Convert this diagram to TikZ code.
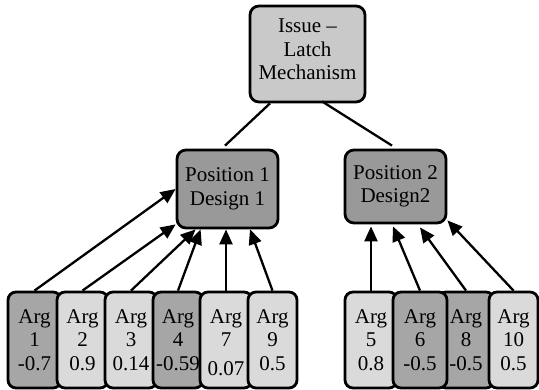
\documentclass[tikz,border=0pt]{standalone}
\usepackage{fontspec}
\setmainfont{Liberation Serif}
\usetikzlibrary{arrows.meta,calc}
\definecolor{issuefill}{HTML}{C9C9C9}
\definecolor{posfill}{HTML}{999999}
\definecolor{argdark}{HTML}{A6A6A6}
\definecolor{arglight}{HTML}{DADADA}
\begin{document}
\begin{tikzpicture}[x=1pt,y=-1pt,
 box/.style={draw=black, line width=2.8pt, rounded corners=9pt, inner sep=0pt, align=center, font=\fontsize{21}{23.5}\selectfont},
 issuebox/.style={box, fill=issuefill, minimum width=115pt, minimum height=96pt},
 posbox/.style={box, fill=posfill, minimum width=101pt},
 argbox/.style={box, rounded corners=8pt, minimum height=96pt},
 dark/.style={argbox, fill=argdark},
 light/.style={argbox, fill=arglight},
 link/.style={line width=2.3pt},
 arr/.style={line width=2.3pt, -{Triangle[length=15pt,width=13pt]}}
]
\useasboundingbox (0,0) rectangle (539,390);
\node[issuebox] (issue) at (307.5,54) {Issue --\\Latch\\Mechanism\\[-14pt]\mbox{}};
\node[posbox, minimum height=78pt] (p1) at (227.5,189) {Position 1\\Design 1};
\node[posbox, minimum height=73pt] (p2) at (395.5,186.5) {Position 2\\Design2};
\node[dark, minimum width=53pt] (a1) at (34.5,340) {Arg\\1\\-0.7};
\node[light, minimum width=51pt] (a2) at (82.5,340) {Arg\\2\\0.9};
\node[light, minimum width=52pt] (a3) at (131,340) {Arg\\3\\0.14};
\node[dark, minimum width=50pt] (a4) at (178,340) {Arg\\4\\-0.59};
\node[light, minimum width=52pt] (a7) at (226,340) {Arg\\7\\\raisebox{-5pt}[\height][\depth]{0.07}};
\node[light, minimum width=49pt] (a9) at (272.5,340) {Arg\\9\\0.5};
\node[light, minimum width=52pt] (a5) at (371,340) {Arg\\5\\0.8};
\node[dark, minimum width=56pt] (a8) at (466,340) {Arg\\8\\-0.5};
\node[dark, minimum width=54pt] (a6) at (420,340) {Arg\\6\\-0.5};
\node[light, minimum width=49pt] (a10) at (513.5,340) {Arg\\10\\0.5};
\draw[link] ($(issue.south)+(-37.5,0)$) -- ($(p1.north)+(-2.5,-3)$);
\draw[link] ($(issue.south)+(14.5,-2)$) -- ($(p2.north)+(-3.5,-3)$);
\draw[arr] (a1.north) -- (p1.west);
\draw[arr] (a2.north) -- ($(p1.south west)+(0,-5)$);
\draw[arr] (a3.north) -- ($(p1.south west)+(20,0)$);
\draw[arr] (a4.north) -- ($(p1.south west)+(25,0)$);
\draw[arr] (a7.north) -- (a7.north |- p1.south);
\draw[arr] (a9.north) -- ($(p1.south)+(22.5,0)$);
\draw[arr] (a5.north) -- ($(a5.north |- p2.south)+(0,2)$);
\draw[arr] (a6.north) -- ($(p2.south)+(-2.5,2)$);
\draw[arr] (a8.north) -- ($(p2.south)+(24.5,3)$);
\draw[arr] (a10.north) -- ($(p2.south east)+(0,-4)$);
\end{tikzpicture}
\end{document}
